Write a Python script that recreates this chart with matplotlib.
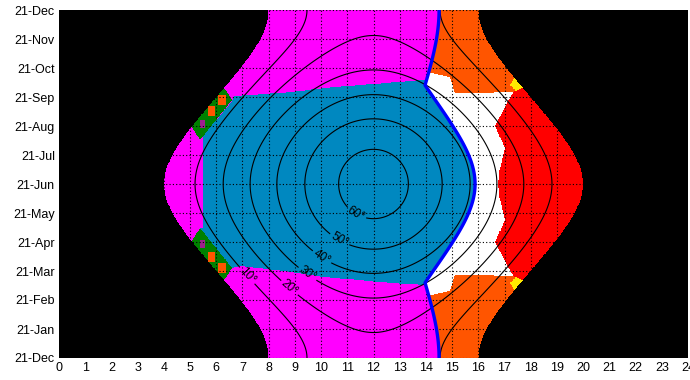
import numpy as np
import matplotlib
matplotlib.use('Agg')
import matplotlib.pyplot as plt
from matplotlib.colors import ListedColormap
from matplotlib.path import Path

plt.rcParams['font.family'] = ['Liberation Sans', 'DejaVu Sans']

# site / building
LATITUDE = 49.0
WALL_AZIMUTH = 214.6     # deg from north, sun beyond this is behind the wall
ROOF_TILT = 38.3
ROOF_AZIMUTH = 77.0

month_labels = ['21-Dec', '21-Jan', '21-Feb', '21-Mar', '21-Apr', '21-May', '21-Jun',
                '21-Jul', '21-Aug', '21-Sep', '21-Oct', '21-Nov', '21-Dec']
hour_ticks = list(range(25))
elevation_levels = [10, 20, 30, 40, 50, 60]
label_hours = [7.29, 8.82, 9.58, 10.08, 10.76, 11.37]
label_months = [2.93, 2.45, 3.03, 3.55, 4.17, 5.03]

# zones (hour, month since 21-Dec)
blue_hours = [5.46, 6.60, 6.68, 8.82, 10.08, 11.99, 13.89, 17.6,
              17.6, 13.89, 12.63, 11.37, 10.08, 8.82, 6.91, 6.60, 5.38, 5.46]
blue_months = [7.62, 8.86, 9.03, 9.17, 9.31, 9.45, 9.59, 9.62,
               2.38, 2.52, 2.59, 2.69, 2.79, 2.97, 3.17, 3.10, 4.48, 4.48]

# lower half only, upper half is the mirror about 21-Jun
white_hours = [13.40, 14.05, 14.92, 15.11, 17.33, 16.64, 17.02, 16.95, 16.83, 16.76, 13.40]
white_months = [2.00, 2.14, 2.31, 2.86, 2.83, 4.00, 4.76, 5.00, 5.45, 6.00, 6.00]
red_hours = [16.76, 16.83, 16.95, 17.02, 16.64, 17.33, 17.67, 22.2, 22.2]
red_months = [6.00, 5.45, 5.00, 4.76, 4.00, 2.83, 2.69, 2.69, 6.00]
yellow_hours = [17.21, 17.44, 17.90, 17.44]
yellow_months = [2.59, 2.79, 2.59, 2.21]
green_hours = [5.38, 6.60, 6.15, 4.92]
green_months = [4.48, 3.10, 2.48, 3.86]
orange_boxes = [(5.69, 5.95, 3.31, 3.66), (6.07, 6.34, 2.93, 3.28)]
purple_boxes = [(5.38, 5.57, 3.79, 4.07)]

colors = ['black', '#ff00ff', '#ff5500', 'white', '#ff0000',
          '#ffe800', '#0088c0', '#008000', '#a0208c']

hours = np.linspace(0, 24, 1201)
months = np.linspace(0, 12, 1201)
hh, mm = np.meshgrid(hours, months)
pts = np.column_stack([hh.ravel(), mm.ravel()])

# sun position
phi = np.radians(LATITUDE)
dec = np.radians(-23.44 * np.cos(2 * np.pi * mm / 12))
ha = np.radians((hh - 12) * 15)
sx = -np.cos(dec) * np.sin(ha)
sy = np.sin(dec) * np.cos(phi) - np.cos(dec) * np.cos(ha) * np.sin(phi)
sz = np.sin(phi) * np.sin(dec) + np.cos(phi) * np.cos(dec) * np.cos(ha)
elev = np.degrees(np.arcsin(np.clip(sz, -1, 1)))
azim = np.degrees(np.arctan2(sx, sy)) % 360

t, a = np.radians(ROOF_TILT), np.radians(ROOF_AZIMUTH)
on_roof = sx * np.sin(t) * np.sin(a) + sy * np.sin(t) * np.cos(a) + sz * np.cos(t)
behind = np.minimum(azim - WALL_AZIMUTH, -np.degrees(np.arcsin(np.clip(on_roof, -1, 1))))
R = behind > 0


def inside(hs, ms):
    return Path(np.column_stack([hs, ms])).contains_points(pts).reshape(hh.shape)


def both_halves(hs, ms):
    return inside(hs, ms) | inside(hs, 12 - np.asarray(ms))


def boxes(bx):
    m = np.zeros(hh.shape, bool)
    for h0, h1, m0, m1 in bx:
        for lo, hi in [(m0, m1), (12 - m1, 12 - m0)]:
            m |= (hh >= h0) & (hh <= h1) & (mm >= lo) & (mm <= hi)
    return m


day = elev > 0
zone = np.zeros(hh.shape)
zone[day] = 1
zone[day & R] = 2
zone[day & R & both_halves(white_hours, white_months)] = 3
zone[day & R & both_halves(red_hours, red_months)] = 4
zone[day & both_halves(yellow_hours, yellow_months)] = 5
zone[day & ~R & inside(blue_hours, blue_months)] = 6
zone[day & both_halves(green_hours, green_months)] = 7
zone[day & boxes(orange_boxes)] = 2
zone[day & boxes(purple_boxes)] = 8

fig = plt.figure(figsize=(6.9, 3.8), dpi=100)
ax = fig.add_axes([59 / 690, 22 / 380, 629 / 690, 348 / 380])
ax.imshow(zone, cmap=ListedColormap(colors), vmin=-0.5, vmax=8.5, origin='lower',
          extent=[0, 24, 0, 12], aspect='auto', interpolation='nearest', zorder=0)

ax.set_xlim(0, 24)
ax.set_ylim(0, 12)
ax.set_xticks(hour_ticks)
ax.set_yticks(range(13))
ax.set_yticklabels(month_labels)
ax.tick_params(length=0, labelsize=9, pad=3)
ax.grid(True, color='k', linestyle=(0, (1, 2)), linewidth=0.8, zorder=1)
ax.set_axisbelow(False)

cs = ax.contour(hh, mm, elev, levels=elevation_levels, colors='k', linewidths=0.8, zorder=3)
ax.clabel(cs, fmt=lambda v: f'{v:.0f}°', fontsize=8.5, inline=True, inline_spacing=2,
          manual=list(zip(label_hours, label_months)))

edge = np.ma.masked_where(elev < -3, behind)
ax.contour(hh, mm, edge, levels=[0], colors='#0000ff', linewidths=2.4, zorder=4)

for s in ax.spines.values():
    s.set_visible(False)

fig.savefig('out.png', dpi=100)
